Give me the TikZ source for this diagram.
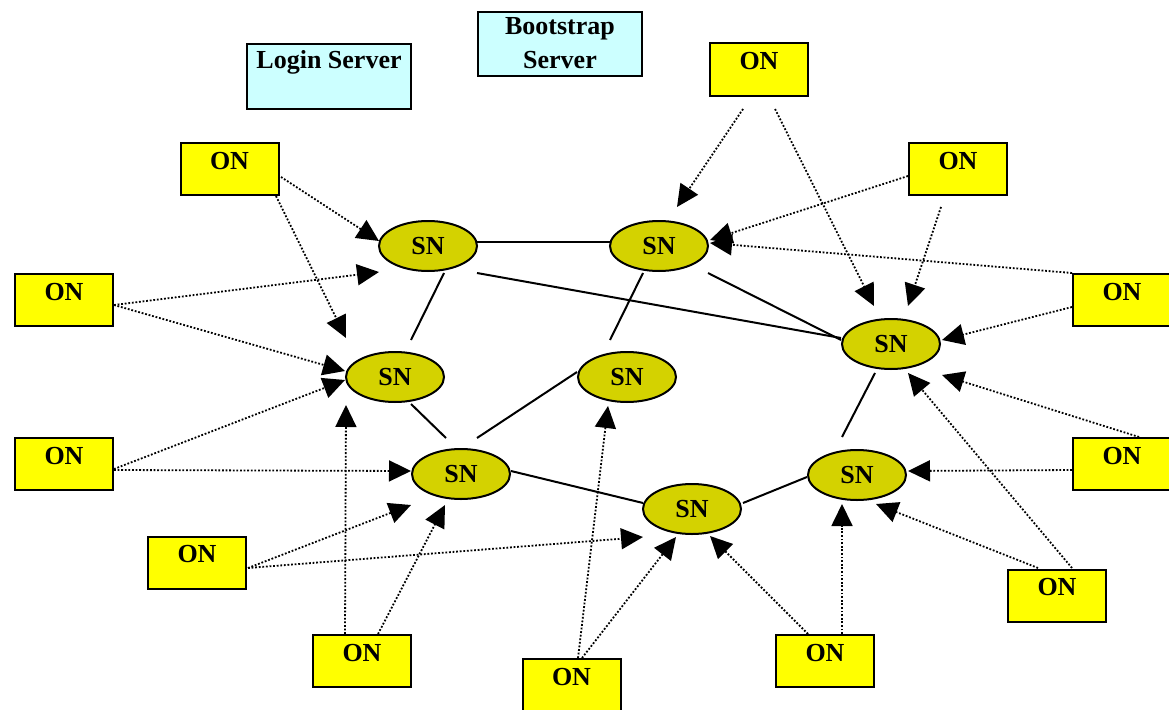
\documentclass[tikz,border=0pt]{standalone}
\usepackage{fontspec}
\setmainfont{Liberation Serif}
\usetikzlibrary{shapes.geometric,arrows.meta,calc}
\definecolor{onyellow}{RGB}{255,255,0}
\definecolor{snolive}{RGB}{212,210,0}
\definecolor{srvcyan}{RGB}{204,255,255}
\newcommand\diagfont{\bfseries\fontsize{26}{34}\selectfont}
\tikzset{
  onbox/.style={draw=black, line width=2pt, fill=onyellow, minimum width=98pt,
    inner xsep=0pt, inner ysep=8pt, text height=18pt, text depth=18pt, font=\diagfont},
  srvbox/.style={draw=black, line width=2pt, fill=srvcyan, minimum width=164pt,
    inner xsep=0pt, font=\diagfont},
  srvtext/.style={inner sep=0pt, align=center, font=\diagfont},
  snnode/.style={ellipse, draw=black, line width=2pt, fill=snolive, minimum width=98pt,
    minimum height=50pt, inner sep=0pt, font=\diagfont},
  snlink/.style={line width=2pt},
  onfeed/.style={line width=1.8pt, dash pattern=on 1.8pt off 1.8pt,
    -{Triangle[length=22pt,width=21pt]}}
}
\begin{document}
\begin{tikzpicture}[x=1pt,y=-1pt]
\useasboundingbox (0,0) rectangle (1169,709);
% servers
\node[srvbox, inner ysep=7pt, text height=17pt, text depth=34pt] (login) at (329,76.5) {Login Server};
\node[srvbox, minimum height=64pt] (boot) at (560,44) {};
\node[srvtext, anchor=north] (boottxt) at ($(boot.north)+(0,6)$) {Bootstrap\\Server};
% ordinary nodes
\node[onbox] (on1) at (229.5,169) {ON};
\node[onbox] (on2) at (759,69.5) {ON};
\node[onbox] (on3) at (958,169) {ON};
\node[onbox] (on4) at (64,300) {ON};
\node[onbox] (on5) at (64,464) {ON};
\node[onbox] (on6) at (1122,300) {ON};
\node[onbox] (on7) at (1122,464) {ON};
\node[onbox] (on8) at (1057,595.5) {ON};
\node[onbox] (on9) at (197,562.5) {ON};
\node[onbox] (on10) at (362,661) {ON};
\node[onbox] (on11) at (571.5,685) {ON};
\node[onbox] (on12) at (825,661) {ON};
% super nodes
\node[snnode] (sn1) at (428,246) {SN};
\node[snnode] (sn2) at (659,246) {SN};
\node[snnode] (sn3) at (891,344) {SN};
\node[snnode] (sn4) at (395,377) {SN};
\node[snnode] (sn5) at (627,377) {SN};
\node[snnode] (sn6) at (461,474) {SN};
\node[snnode] (sn7) at (692,509) {SN};
\node[snnode] (sn8) at (857,475) {SN};
% SN links
\draw[snlink] ($(sn1)+(49,-4)$) -- ($(sn2)+(-49,-4)$);
\draw[snlink] ($(sn1)+(49,27)$) -- ($(sn3)+(-50,-6)$);
\draw[snlink] ($(sn2)+(49,27)$) -- ($(sn3)+(-50,-4)$);
\draw[snlink] ($(sn1)+(16,27)$) -- ($(sn4)+(16,-37)$);
\draw[snlink] ($(sn2)+(-16,27)$) -- ($(sn5)+(-17,-37)$);
\draw[snlink] ($(sn4)+(16,27)$) -- ($(sn6)+(-15,-36)$);
\draw[snlink] ($(sn5)+(-50,-5)$) -- ($(sn6)+(16,-36)$);
\draw[snlink] ($(sn6)+(50,-3)$) -- ($(sn7)+(-49,-6)$);
\draw[snlink] ($(sn7)+(51,-6)$) -- ($(sn8)+(-50,2)$);
\draw[snlink] ($(sn3)+(-16,29)$) -- ($(sn8)+(-15,-38)$);
% ON to SN connections
\draw[onfeed] ($(on1)+(51.5,8)$) -- ($(sn1)+(-49,-5)$);
\draw[onfeed] ($(on1)+(46.5,27)$) -- ($(sn4)+(-49,-39)$);
\draw[onfeed] ($(on4)+(50,5)$) -- ($(sn1)+(-49,26)$);
\draw[onfeed] ($(on4)+(50,5)$) -- ($(sn4)+(-50,-6)$);
\draw[onfeed] ($(on5)+(50,5)$) -- ($(sn4)+(-50,3)$);
\draw[onfeed] ($(on5)+(50,6)$) -- ($(sn6)+(-50,-3)$);
\draw[onfeed] ($(on9)+(51,5.5)$) -- ($(sn6)+(-50,31)$);
\draw[onfeed] ($(on9)+(51,5.5)$) -- ($(sn7)+(-49,28)$);
\draw[onfeed] ($(on10)+(-17,-27)$) -- ($(sn4)+(-49,28)$);
\draw[onfeed] ($(on10)+(16,-27)$) -- ($(sn6)+(-16,31)$);
\draw[onfeed] ($(on11)+(6.5,-27)$) -- ($(sn5)+(-19,29)$);
\draw[onfeed] ($(on11)+(10.5,-27)$) -- ($(sn7)+(-16,28)$);
\draw[onfeed] ($(on12)+(-17,-27)$) -- ($(sn7)+(18,27)$);
\draw[onfeed] ($(on12)+(17,-27)$) -- ($(sn8)+(-15,29)$);
\draw[onfeed] ($(on8)+(-19,-27.5)$) -- ($(sn8)+(19,29)$);
\draw[onfeed] ($(on8)+(15,-27.5)$) -- ($(sn3)+(17,29)$);
\draw[onfeed] ($(on7)+(-50,6)$) -- ($(sn8)+(51,-4)$);
\draw[onfeed] ($(on7)+(17,-27)$) -- ($(sn3)+(51,31)$);
\draw[onfeed] ($(on6)+(-50,7)$) -- ($(sn3)+(51,-4)$);
\draw[onfeed] ($(on6)+(-50,-27)$) -- ($(sn2)+(51,-3)$);
\draw[onfeed] ($(on3)+(-50,7)$) -- ($(sn2)+(51,-6)$);
\draw[onfeed] ($(on3)+(-17,38)$) -- ($(sn3)+(17,-38)$);
\draw[onfeed] ($(on2)+(-16,39.5)$) -- ($(sn2)+(18,-39)$);
\draw[onfeed] ($(on2)+(16,39.5)$) -- ($(sn3)+(-17,-38)$);
\end{tikzpicture}
\end{document}
